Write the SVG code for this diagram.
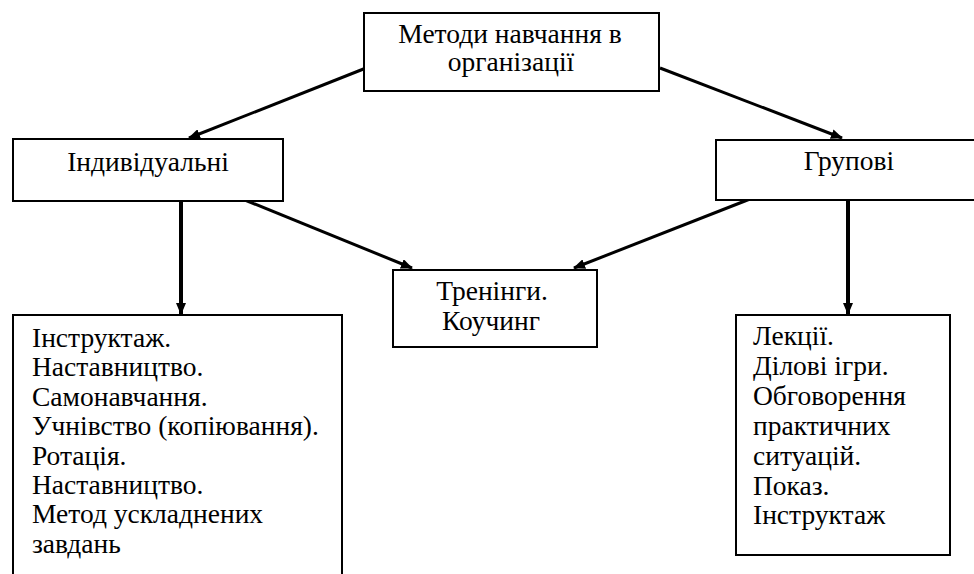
<svg xmlns="http://www.w3.org/2000/svg" width="974" height="574" viewBox="0 0 974 574">
<defs>
<marker id="ah" markerWidth="12" markerHeight="10" refX="11" refY="5" orient="auto" markerUnits="userSpaceOnUse">
<path d="M0,0 L12,5 L0,10 Z" fill="#000"/>
</marker>
<style>
.box{fill:#fff;stroke:#000;stroke-width:2}
.t{font-family:"Liberation Serif","Times New Roman",serif;font-size:27.5px;fill:#000}
.c{text-anchor:middle}
.ln{stroke:#000;stroke-width:3;fill:none}
.vl{stroke:#000;stroke-width:4;fill:none}
</style>
</defs>
<rect width="974" height="574" fill="#fff"/>
<g id="connectors">
<line class="ln" x1="366" y1="68" x2="189" y2="138" marker-end="url(#ah)"/>
<line class="ln" x1="660" y1="68" x2="842" y2="138" marker-end="url(#ah)"/>
<line class="vl" x1="181" y1="201" x2="181" y2="314" marker-end="url(#ah)"/>
<line class="vl" x1="848" y1="200" x2="848" y2="314" marker-end="url(#ah)"/>
<line class="ln" x1="240" y1="198" x2="412" y2="268" marker-end="url(#ah)"/>
<line class="ln" x1="750" y1="199" x2="574" y2="268" marker-end="url(#ah)"/>
</g>
<g id="root">
<rect class="box" x="364" y="13" width="295" height="78"/>
<text class="t c" x="510" y="43">Методи навчання в</text>
<text class="t c" x="511" y="71">організації</text>
</g>
<g id="individual">
<rect class="box" x="13" y="139" width="270" height="62"/>
<text class="t c" x="148" y="171">Індивідуальні</text>
</g>
<g id="group">
<rect class="box" x="716" y="140" width="270" height="60"/>
<text class="t c" x="849" y="170">Групові</text>
</g>
<g id="training">
<rect class="box" x="393" y="270" width="204" height="77"/>
<text class="t c" x="492" y="300">Тренінги.</text>
<text class="t c" x="491" y="330">Коучинг</text>
</g>
<g id="individual-list">
<rect class="box" x="13" y="315" width="329" height="270"/>
<text class="t" x="32" y="347">Інструктаж.</text>
<text class="t" x="32" y="376">Наставництво.</text>
<text class="t" x="32" y="406">Самонавчання.</text>
<text class="t" x="32" y="435">Учнівство (копіювання).</text>
<text class="t" x="32" y="465">Ротація.</text>
<text class="t" x="32" y="494">Наставництво.</text>
<text class="t" x="32" y="523">Метод ускладнених</text>
<text class="t" x="32" y="553">завдань</text>
</g>
<g id="group-list">
<rect class="box" x="736" y="315" width="214" height="240"/>
<text class="t" x="753" y="345">Лекції.</text>
<text class="t" x="753" y="375">Ділові ігри.</text>
<text class="t" x="753" y="405">Обговорення</text>
<text class="t" x="753" y="435">практичних</text>
<text class="t" x="753" y="465">ситуацій.</text>
<text class="t" x="753" y="495">Показ.</text>
<text class="t" x="753" y="524">Інструктаж</text>
</g>
</svg>
